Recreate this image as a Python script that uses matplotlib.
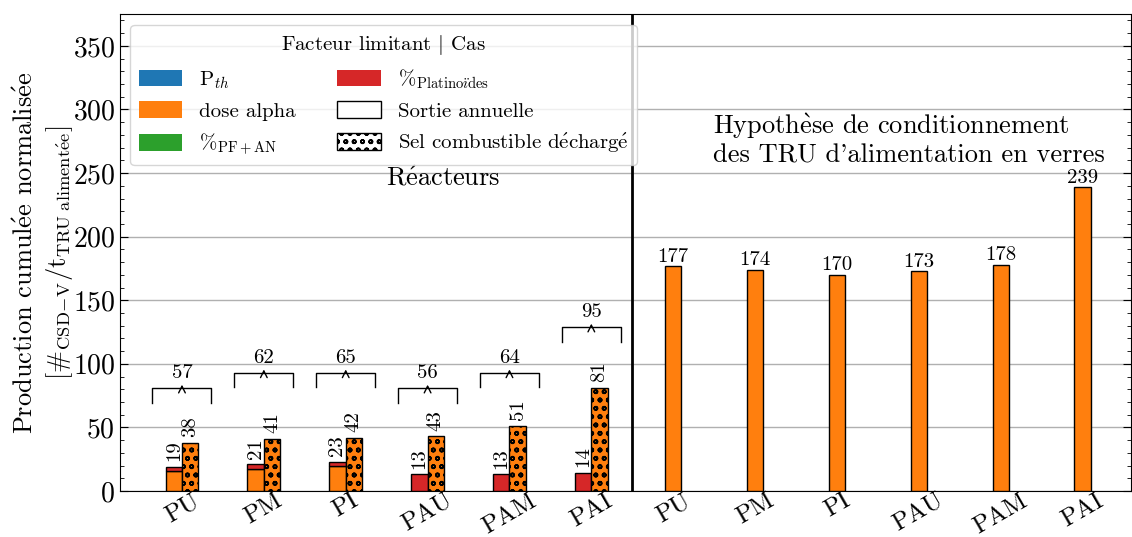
# ----------------------------------------------------------
# production cumulee normalisee de colis par cas
# ----------------------------------------------------------
import numpy as np
import matplotlib
matplotlib.use('Agg')
import matplotlib.pyplot as plt
from matplotlib.patches import Patch

# ----------------------------------------------------------
# donnees
# ----------------------------------------------------------
cas = ['PU', 'PM', 'PI', 'PAU', 'PAM', 'PAI']
sortie_dose = [16, 17, 20, 0, 0, 0]       # sortie annuelle, limite dose alpha
sortie_plat = [3, 4, 3, 13, 13, 14]       # sortie annuelle, limite platinoides
sel_dose = [38, 41, 42, 43, 51, 81]       # sel combustible decharge
verres_dose = [177, 174, 170, 173, 178, 239]  # TRU en verres

# ----------------------------------------------------------
# style
# ----------------------------------------------------------
plt.rcParams['font.family'] = ['cmr10', 'DejaVu Serif']
plt.rcParams['mathtext.fontset'] = 'cm'
plt.rcParams['axes.formatter.use_mathtext'] = True
plt.rcParams['hatch.linewidth'] = 1.2

c_pth, c_dose, c_pf, c_plat = '#1f77b4', '#ff7f0e', '#2ca02c', '#d62728'
w = 0.2
hatch = 'oo'


# ----------------------------------------------------------
# functions
# ----------------------------------------------------------
def tx(s):
    # cmr10 n'a pas les lettres accentuees -> mathtext
    s = s.replace('é', r'$\acute{\mathrm{e}}$')
    s = s.replace('è', r'$\grave{\mathrm{e}}$')
    return s


# ----------------------------------------------------------
# main
# ----------------------------------------------------------
fig = plt.figure(figsize=(11.32, 5.37), dpi=100)
ax = fig.add_axes([0.106, 0.0857, 0.893, 0.888])

x = np.arange(len(cas))
x2 = x + len(cas)
sortie_tot = np.array(sortie_dose) + np.array(sortie_plat)
totaux = sortie_tot + np.array(sel_dose)

ax.bar(x - w / 2, sortie_dose, w, color=c_dose, edgecolor='k', lw=1, zorder=3)
ax.bar(x - w / 2, sortie_plat, w, bottom=sortie_dose, color=c_plat,
       edgecolor='k', lw=1, zorder=3)
ax.bar(x + w / 2, sel_dose, w, color=c_dose, edgecolor='k', lw=1,
       hatch=hatch, zorder=3)
ax.bar(x2, verres_dose, w, color=c_dose, edgecolor='k', lw=1, zorder=3)

for xi, h in zip(x, sortie_tot):
    ax.text(xi - w / 2, h + 4.5, str(h), rotation=90, ha='center',
            va='bottom', fontsize=15)
for xi, h in zip(x, sel_dose):
    ax.text(xi + w / 2, h + 4.5, str(h), rotation=90, ha='center',
            va='bottom', fontsize=15)
for xi, h in zip(x2, verres_dose):
    ax.text(xi, h + 0.3, str(h), ha='center', va='bottom', fontsize=15)

# accolades avec le total par cas
for xi, t in zip(x, totaux):
    yb = np.ceil(t / 10) * 10 * 1.2 + 9
    ax.plot([xi - 0.36, xi - 0.36, xi + 0.36, xi + 0.36],
            [yb - 11.5, yb, yb, yb - 11.5], color='k', lw=1, zorder=4)
    ax.annotate('', xy=(xi, yb + 2.6), xytext=(xi, yb),
                arrowprops=dict(arrowstyle='->', lw=1, shrinkA=0, shrinkB=0,
                                mutation_scale=12))
    ax.text(xi, yb + 4.5, str(t), ha='center', va='bottom', fontsize=15)

ax.axvline(5.5, color='k', lw=2, zorder=5)

ax.text(3.19, 246, tx('Réacteurs'), ha='center', va='center', fontsize=19)
ax.text(6.48, 276, tx("Hypothèse de conditionnement\ndes TRU d'alimentation en verres"),
        ha='left', va='center', fontsize=19, linespacing=1.15)

ax.set_xlim(-0.757, 11.59)
ax.set_ylim(0, 375)
ax.set_xticks(np.concatenate([x, x2]))
ax.set_xticklabels(cas + cas, rotation=30, ha='center', fontsize=18)
ax.set_yticks(np.arange(0, 351, 50))
ax.set_yticks(np.arange(0, 375, 10), minor=True)
ax.tick_params(axis='y', which='both', direction='in', right=True,
               labelsize=20)
ax.tick_params(axis='y', which='major', length=6)
ax.tick_params(axis='y', which='minor', length=3)
ax.tick_params(axis='x', direction='in', length=6, pad=-1)
ax.grid(axis='y', which='major', color='#b0b0b0', lw=1)
ax.set_axisbelow(True)

ax.set_ylabel(tx('Production cumulée normalisée') + '\n'
              r'$[\#_{\mathrm{CSD\!-\!V}}/\mathrm{t}_{\mathrm{TRU\ aliment\acute{e}e}}]$',
              fontsize=19, linespacing=1.3, labelpad=-2)

handles = [
    Patch(facecolor=c_pth, label=r'P$_{th}$'),
    Patch(facecolor=c_dose, label='dose alpha'),
    Patch(facecolor=c_pf, label=r'%$_{\mathrm{PF+AN}}$'),
    Patch(facecolor=c_plat, label=r'%$_{\mathrm{Platino\ddot{\imath}des}}$'),
    Patch(facecolor='white', edgecolor='k', label='Sortie annuelle'),
    Patch(facecolor='white', edgecolor='k', hatch=hatch,
          label=tx('Sel combustible déchargé')),
]
ax.legend(handles=handles, ncol=2, loc='upper left',
          title=r'Facteur limitant $|$ Cas', fontsize=15,
          title_fontsize=15, handlelength=2.1, handleheight=0.85)

fig.savefig('out.png', dpi=100)
